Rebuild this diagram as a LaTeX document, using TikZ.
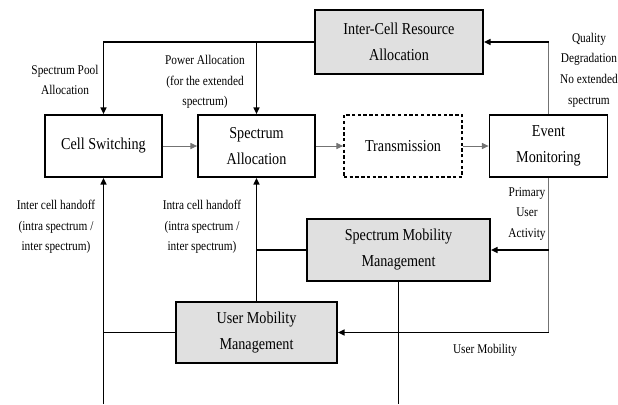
\documentclass[tikz,border=0pt]{standalone}
\usepackage{fontspec}
\setmainfont[FakeStretch=0.85]{Liberation Serif}
\usetikzlibrary{arrows.meta}

\begin{document}
\begin{tikzpicture}[x=0.75pt,y=0.75pt,yscale=-1,xscale=1,
  blk/.style={draw,line width=1.3pt,inner sep=0pt,align=center,font=\fontsize{12.5}{19.5}\selectfont},
  shaded/.style={blk,fill=black!12},
  lbl/.style={inner sep=0pt,align=center,font=\fontsize{10}{15.5}\selectfont},
  conn/.style={line width=1.1pt,-{Triangle[length=5pt,width=4.5pt]}},
  pale/.style={draw=black!55,line width=0.7pt}]
\path[use as bounding box] (0,0) rectangle (618,404);

%Shape: Rectangle [Inter-Cell Resource Allocation]
\node[shaded,minimum width=126pt,minimum height=48pt] (ica) at (399,42) {Inter-Cell Resource\\Allocation};
%Shape: Rectangle [Cell Switching]
\node[blk,minimum width=87.75pt,minimum height=46.5pt] (cs) at (103.5,146) {Cell Switching};
%Shape: Rectangle [Spectrum Allocation]
\node[blk,minimum width=87.75pt,minimum height=46.5pt] (sa) at (256.5,146) {Spectrum\\Allocation};
%Shape: Rectangle [Transmission]
\node[blk,dash pattern=on 2.5pt off 1.8pt,minimum width=88.5pt,minimum height=46.5pt] (tx) at (403,146) {Transmission};
%Shape: Rectangle [Event Monitoring]
\node[blk,minimum width=88.5pt,minimum height=46.5pt] (em) at (548.5,146) {Event\\Monitoring};
%Shape: Rectangle [Spectrum Mobility Management]
\node[shaded,minimum width=137.25pt,minimum height=46.5pt] (smm) at (398.5,250) {Spectrum Mobility\\Management};
%Shape: Rectangle [User Mobility Management]
\node[shaded,minimum width=120.75pt,minimum height=45.75pt] (umm) at (256.5,332.5) {User Mobility\\Management};

\coordinate (lowL) at (103.5,404);
\coordinate (lowR) at (398.5,404);

% Connection
\draw[conn] (ica.west) -| (cs.north);
\draw[conn] (sa.north |- ica.west) -- (sa.north);
\draw[conn,pale] (cs) -- (sa);
\draw[conn,pale] (sa) -- (tx);
\draw[conn,pale] (tx) -- (em);
\draw[pale] (em.north) -- (em.north |- ica.east);
\draw[conn] (em.north |- ica.east) -- (ica.east);
\draw[pale] (em.south) -- (em.south |- umm.east);
\draw[conn] (em.south |- smm.east) -- (smm.east);
\draw[conn] (em.south |- umm.east) -- (umm.east);
\draw[line width=1.1pt] (smm.south) -- (lowR);
\draw[conn] (lowL) -- (cs.south);
\draw[line width=1.1pt] (umm.west) -- (umm.west -| cs.south);
\draw[conn] (umm.north) -- (sa.south);
\draw[line width=1.1pt] (smm.west) -- (smm.west -| sa.south);

% Text Node
\node[lbl] (poolL) at (65,80) {Spectrum Pool\\Allocation};
% Text Node
\node[lbl] (powerL) at (205,82) {Power Allocation\\(for the extended\\spectrum)};
% Text Node
\node[lbl] (qualL) at (589,70) {Quality\\Degradation\\No extended\\spectrum};
% Text Node
\node[lbl] (puaL) at (527,214) {Primary\\User\\Activity};
% Text Node
\node[lbl] (interL) at (56,227) {Inter cell handoff\\(intra spectrum /\\inter spectrum)};
% Text Node
\node[lbl] (intraL) at (202,227) {Intra cell handoff\\(intra spectrum /\\inter spectrum)};
% Text Node
\node[lbl] (umL) at (485,350) {User Mobility};

\end{tikzpicture}
\end{document}
